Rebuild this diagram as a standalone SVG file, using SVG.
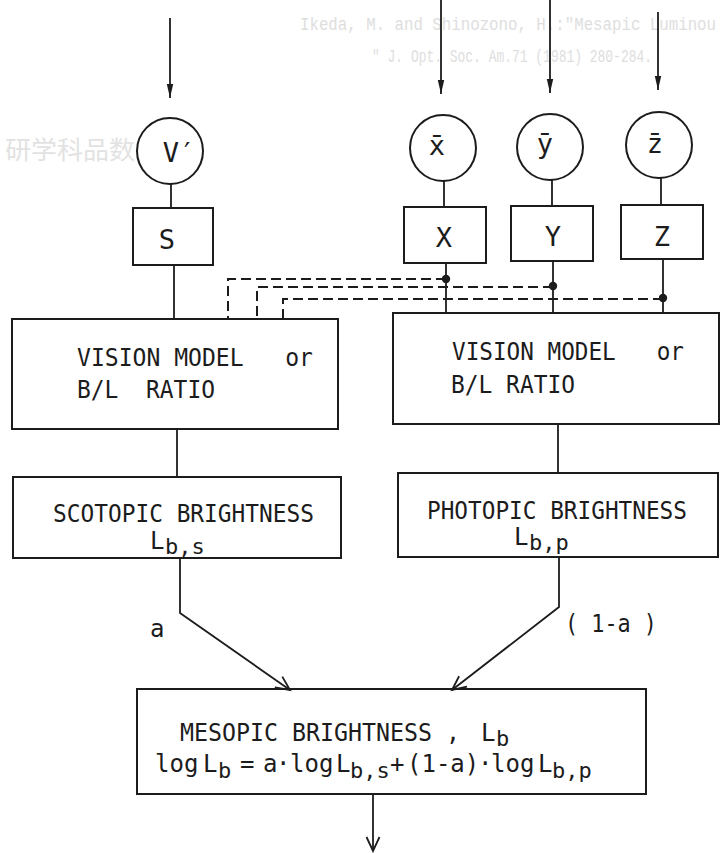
<svg xmlns="http://www.w3.org/2000/svg" width="721" height="853" viewBox="0 0 721 853" xml:space="preserve">
<style>
  .ln{fill:none;stroke:#1c1c1c;stroke-width:1.8}
  .bx{fill:none;stroke:#1c1c1c;stroke-width:2}
  .ds{fill:none;stroke:#1c1c1c;stroke-width:2;stroke-dasharray:10 5}
  .t{font-family:'DejaVu Sans Mono','Liberation Mono',monospace;font-size:24px;fill:#1c1c1c;white-space:pre}
  .sub{font-size:22px}
  .lbl{font-family:'DejaVu Sans Mono','Liberation Mono',monospace;font-size:27px;fill:#1c1c1c;text-anchor:middle}
  .bleed{font-family:'Liberation Mono','DejaVu Sans Mono',monospace;font-size:19px;fill:#dedede;white-space:pre}
  .bleedcjk{font-family:'Noto Sans CJK SC',sans-serif;font-size:25px;fill:#e2e2e2}
</style>
<defs>
  <marker id="fa" markerUnits="userSpaceOnUse" markerWidth="16" markerHeight="10" refX="14" refY="4" orient="auto">
    <path d="M0,0.8 L14,4 L0,7.2 Z" fill="#1c1c1c"/>
  </marker>
  <marker id="oa" markerUnits="userSpaceOnUse" markerWidth="18" markerHeight="16" refX="15" refY="8" orient="auto">
    <path d="M1,1.5 L15,8 L1,14.5" fill="none" stroke="#1c1c1c" stroke-width="1.8"/>
  </marker>
</defs>
<rect width="721" height="853" fill="#ffffff"/>

<g id="bleed-through">
  <text class="bleed" x="300" y="30" textLength="416" lengthAdjust="spacingAndGlyphs">Ikeda, M. and Shinozono, H.:"Mesapic Luminou</text>
  <text class="bleed" x="372" y="62" textLength="280" lengthAdjust="spacingAndGlyphs">" J. Opt. Soc. Am.71 (1981) 280-284.</text>
  <text class="bleedcjk" x="5" y="159" textLength="130" lengthAdjust="spacingAndGlyphs">研学科品数</text>
</g>

<g id="connectors">
  <line class="ln" x1="170" y1="18" x2="170" y2="98" marker-end="url(#fa)"/>
  <line class="ln" x1="441" y1="0" x2="441" y2="94" marker-end="url(#fa)"/>
  <line class="ln" x1="550" y1="0" x2="550" y2="93" marker-end="url(#fa)"/>
  <line class="ln" x1="658" y1="12" x2="658" y2="90" marker-end="url(#fa)"/>
  <line class="ln" x1="171" y1="184" x2="171" y2="208"/>
  <line class="ln" x1="444" y1="181" x2="444" y2="207"/>
  <line class="ln" x1="552" y1="180" x2="552" y2="206"/>
  <line class="ln" x1="661" y1="178" x2="661" y2="205"/>
  <line class="ln" x1="174" y1="265" x2="174" y2="319"/>
  <line class="ln" x1="446" y1="263" x2="446" y2="314"/>
  <line class="ln" x1="553" y1="261" x2="553" y2="313"/>
  <line class="ln" x1="663" y1="259" x2="663" y2="313"/>
  <path class="ds" d="M446,279 H228 V319"/>
  <path class="ds" d="M553,287 H257 V319"/>
  <path class="ds" d="M663,299 H283 V319"/>
  <circle cx="446" cy="279" r="4.2" fill="#1c1c1c"/>
  <circle cx="553" cy="286" r="4.2" fill="#1c1c1c"/>
  <circle cx="663" cy="298" r="4.2" fill="#1c1c1c"/>
  <line class="ln" x1="177" y1="429" x2="177" y2="477"/>
  <line class="ln" x1="558" y1="424" x2="558" y2="473"/>
  <path class="ln" d="M180,558 V613 L290,690" marker-end="url(#oa)"/>
  <path class="ln" d="M559,557 V607 L452,690" marker-end="url(#oa)"/>
  <line class="ln" x1="373" y1="794" x2="373" y2="851" marker-end="url(#oa)"/>
  <text class="t" x="150" y="637">a</text>
  <text class="t" x="565" y="632" textLength="92" lengthAdjust="spacingAndGlyphs">( 1-a )</text>
</g>

<g id="node-vprime">
  <circle class="bx" cx="170" cy="151" r="33"/>
  <text class="lbl" x="179" y="162" font-size="28">V′</text>
</g>
<g id="node-xbar">
  <circle class="bx" cx="443" cy="148" r="33"/>
  <text class="lbl" x="437" y="155" font-size="28">x̄</text>
</g>
<g id="node-ybar">
  <circle class="bx" cx="550" cy="147" r="33"/>
  <text class="lbl" x="545" y="153" font-size="28">ȳ</text>
</g>
<g id="node-zbar">
  <circle class="bx" cx="659" cy="145" r="33"/>
  <text class="lbl" x="655" y="153" font-size="28">z̄</text>
</g>

<g id="node-S">
  <rect class="bx" x="133" y="208" width="80" height="57"/>
  <text class="lbl" x="167" y="249">S</text>
</g>
<g id="node-X">
  <rect class="bx" x="404" y="207" width="82" height="56"/>
  <text class="lbl" x="444" y="247">X</text>
</g>
<g id="node-Y">
  <rect class="bx" x="511" y="206" width="82" height="55"/>
  <text class="lbl" x="553" y="246">Y</text>
</g>
<g id="node-Z">
  <rect class="bx" x="621" y="205" width="82" height="54"/>
  <text class="lbl" x="662" y="246">Z</text>
</g>

<g id="node-vision-left">
  <rect class="bx" x="12" y="319" width="326" height="110"/>
  <text class="t" x="77" y="366" textLength="236" lengthAdjust="spacingAndGlyphs">VISION MODEL   or</text>
  <text class="t" x="77" y="398" textLength="138" lengthAdjust="spacingAndGlyphs">B/L  RATIO</text>
</g>
<g id="node-vision-right">
  <rect class="bx" x="393" y="313" width="326" height="111"/>
  <text class="t" x="452" y="360" textLength="232" lengthAdjust="spacingAndGlyphs">VISION MODEL   or</text>
  <text class="t" x="451" y="393" textLength="124" lengthAdjust="spacingAndGlyphs">B/L RATIO</text>
</g>

<g id="node-scotopic">
  <rect class="bx" x="13" y="477" width="328" height="81"/>
  <text class="t" x="53" y="522" textLength="261" lengthAdjust="spacingAndGlyphs">SCOTOPIC BRIGHTNESS</text>
  <text class="t" x="150" y="549">L<tspan class="sub" x="165" y="554">b,s</tspan></text>
</g>
<g id="node-photopic">
  <rect class="bx" x="398" y="473" width="320" height="84"/>
  <text class="t" x="427" y="519" textLength="260" lengthAdjust="spacingAndGlyphs">PHOTOPIC BRIGHTNESS</text>
  <text class="t" x="514" y="545">L<tspan class="sub" x="529" y="550">b,p</tspan></text>
</g>

<g id="node-mesopic">
  <rect class="bx" x="137" y="689" width="509" height="105"/>
  <text class="t" x="180" y="741" textLength="280" lengthAdjust="spacingAndGlyphs">MESOPIC BRIGHTNESS ,</text>
  <text class="t" x="481" y="741">L<tspan class="sub" x="496" y="746">b</tspan></text>
  <text class="t"><tspan x="155" y="772">log</tspan><tspan x="203" y="772">L</tspan><tspan class="sub" x="218" y="778">b</tspan><tspan x="240" y="772">=</tspan><tspan x="263" y="772">a</tspan><tspan x="276" y="772">·</tspan><tspan x="290" y="772">log</tspan><tspan x="336" y="772">L</tspan><tspan class="sub" x="350" y="778">b,s</tspan><tspan x="390" y="772">+</tspan><tspan x="407" y="772">(1-a)</tspan><tspan x="478" y="772">·</tspan><tspan x="491" y="772">log</tspan><tspan x="538" y="772">L</tspan><tspan class="sub" x="552" y="778">b,p</tspan></text>
</g>
</svg>
